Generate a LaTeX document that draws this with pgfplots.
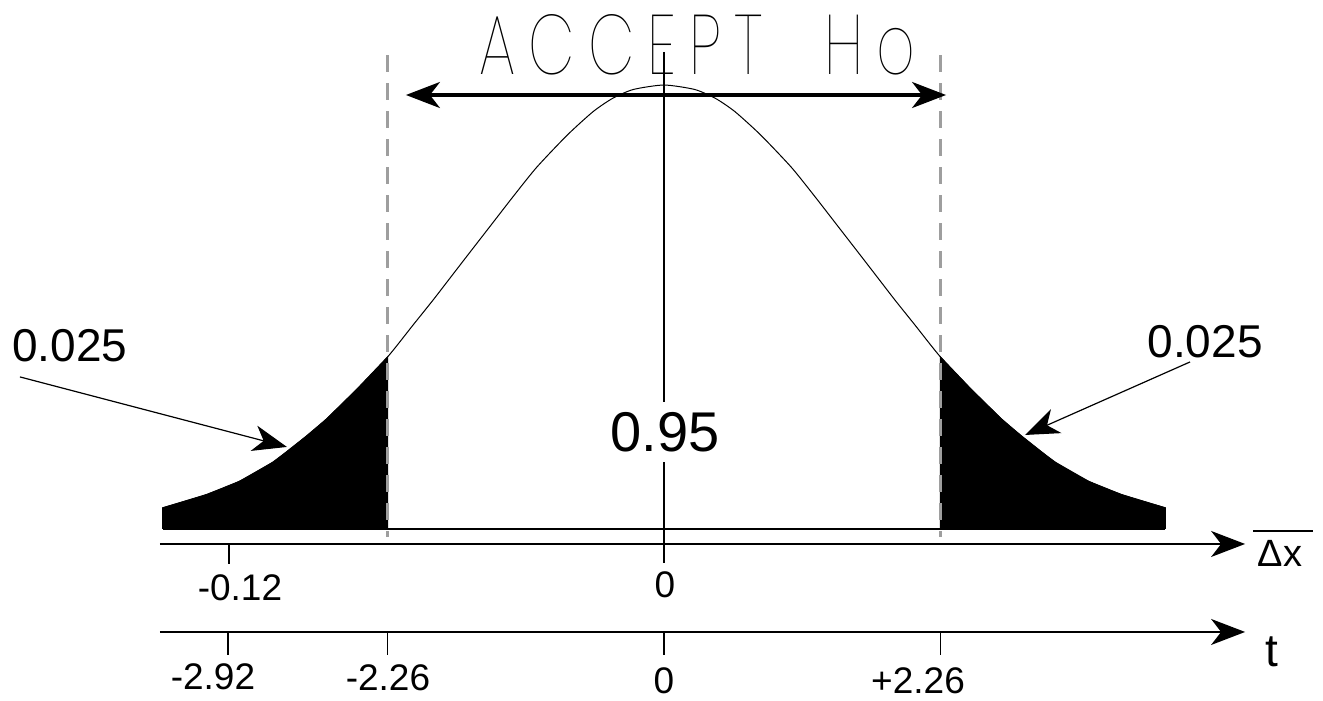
\documentclass[border=0pt]{standalone}
\usepackage{graphicx}
\usepackage{pgfplots}
\pgfplotsset{compat=1.18}
\usepackage{pgfplotstable}
\usetikzlibrary{arrows.meta}
\usepackage{fontspec}
\setmainfont{Liberation Sans}
% a light face for the region caption, with fallbacks
\IfFontExistsTF{Poppins Thin}{\newfontfamily\thinfont{Poppins Thin}}{%
  \IfFontExistsTF{Fira Sans Thin}{\newfontfamily\thinfont{Fira Sans Thin}}{%
    \IfFontExistsTF{Lato Hairline}{\newfontfamily\thinfont{Lato Hairline}}{%
      \IfFontExistsTF{Poppins Light}{\newfontfamily\thinfont{Poppins Light}}{%
        \IfFontExistsTF{Open Sans Light}{\newfontfamily\thinfont{Open Sans Light}}{%
          \newfontfamily\thinfont{Liberation Sans}}}}}}

% t distribution density (t, f(t))
\pgfplotstableread{
t dens
-4.10 0.019
-3.74 0.031
-3.47 0.043
-3.20 0.060
-3.08 0.070
-2.92 0.084
-2.76 0.099
-2.51 0.126
-2.26 0.155
-2.05 0.184
-1.89 0.206
-1.75 0.226
-1.61 0.246
-1.42 0.273
-1.23 0.300
-1.04 0.326
-0.79 0.355
-0.58 0.376
-0.42 0.388
-0.25 0.396
0.00 0.400
0.25 0.396
0.42 0.388
0.58 0.376
0.79 0.355
1.04 0.326
1.23 0.300
1.42 0.273
1.61 0.246
1.75 0.226
1.89 0.206
2.05 0.184
2.26 0.155
2.51 0.126
2.76 0.099
2.92 0.084
3.08 0.070
3.20 0.060
3.47 0.043
3.74 0.031
4.10 0.019
}\curve

% rejection region, lower tail
\pgfplotstableread{
t dens
-4.10 0.000
-4.10 0.019
-3.74 0.031
-3.47 0.043
-3.20 0.060
-3.08 0.070
-2.92 0.084
-2.76 0.099
-2.51 0.126
-2.26 0.155
-2.26 0.000
}\lefttail

% rejection region, upper tail
\pgfplotstableread{
t dens
2.26 0.000
2.26 0.155
2.51 0.126
2.76 0.099
2.92 0.084
3.08 0.070
3.20 0.060
3.47 0.043
3.74 0.031
4.10 0.019
4.10 0.000
}\righttail

\begin{document}
\begin{tikzpicture}[
  bigtip/.tip={Stealth[length=17pt,width=13pt,inset=5pt]},
  leadtip/.tip={Stealth[length=17pt,width=13pt,inset=5pt]},
  crit/.style={black!38, line width=1.8pt, dash pattern=on 8.5pt off 5.5pt},
  lbl/.style={inner sep=0pt, font=\fontsize{18.5}{18.5}\selectfont},
]
\begin{axis}[
  x=61.15pt, y=554.9pt,
  xmin=-4.121, xmax=4.751, ymin=-0.0928, ymax=0.4766,
  axis x line=bottom, axis y line=none,
  x axis line style={line width=0.75pt, -bigtip},
  xtick={-3.565,-2.26,0,2.26}, xticklabels={,,,},
  tick align=outside, major tick length=11.5pt,
  xtick style={line width=0.6pt, black},
  clip=false,
]
% shaded tails
\addplot[fill=black, draw=black, line width=0.5pt] table[x=t, y=dens] {\lefttail};
\addplot[fill=black, draw=black, line width=0.5pt] table[x=t, y=dens] {\righttail};
% density curve and its base
\addplot[black, line width=0.5pt, smooth, tension=0.4] table[x=t, y=dens] {\curve};
\addplot[black, line width=0.6pt] coordinates {(-4.10,0) (4.10,0)};

% critical values
\draw[crit] (axis cs:-2.26,0.427) -- (axis cs:-2.26,-0.0072);
\draw[crit] (axis cs:2.26,0.427) -- (axis cs:2.26,-0.0072);

% centre line
\draw[black, line width=0.6pt] (axis cs:0,0.4298) -- (axis cs:0,-0.0306);

% acceptance region
\draw[line width=1.6pt, bigtip-bigtip] (axis cs:-2.110,0.391) -- (axis cs:2.306,0.391);
\node[inner sep=0pt] at (axis cs:0.272,0.4361)
  {\resizebox{218pt}{30pt}{\thinfont\addfontfeature{LetterSpace=22}ACCEPT\ \ Ho}};

\node[fill=white, inner xsep=2pt, inner ysep=5pt, font=\fontsize{28}{28}\selectfont]
  at (axis cs:0.008,0.0874) {0.95};

% tail probabilities
\node[inner sep=0pt, font=\fontsize{23}{23}\selectfont] at (axis cs:-4.857,0.1649) {0.025};
\node[inner sep=0pt, font=\fontsize{23}{23}\selectfont] at (axis cs:4.424,0.1685) {0.025};
\draw[line width=0.6pt, -leadtip] (axis cs:-5.266,0.1370) -- (axis cs:-3.083,0.0739);
\draw[line width=0.6pt, -leadtip] (axis cs:4.301,0.1505) -- (axis cs:2.952,0.0847);

% mean difference axis
\draw[line width=0.75pt, -bigtip] (axis cs:-4.121,-0.01352) -- (axis cs:4.751,-0.01352);
\draw[line width=0.6pt] (axis cs:-3.557,-0.01352) -- (axis cs:-3.557,-0.0315);
\node[lbl] at (axis cs:-3.467,-0.0532) {-0.12};
\node[lbl] at (axis cs:0.008,-0.0505) {0};
\node[inner sep=0pt, font=\fontsize{19}{19}\selectfont] at (axis cs:5.037,-0.0216) {Δx};
\draw[line width=1pt] (axis cs:4.816,-0.0018) -- (axis cs:5.307,-0.0018);

% t axis labels
\node[lbl] at (axis cs:-3.688,-0.1333) {-2.92};
\node[lbl] at (axis cs:-2.257,-0.1342) {-2.26};
\node[lbl] at (axis cs:0,-0.1370) {0};
\node[lbl] at (axis cs:2.077,-0.1370) {+2.26};
\node[inner sep=0pt, font=\fontsize{23}{23}\selectfont] at (axis cs:4.971,-0.1108) {t};

\coordinate (bbsw) at (axis cs:-5.429,-0.1541);
\coordinate (bbne) at (axis cs:5.388,0.4766);
\end{axis}
\pgfresetboundingbox
\useasboundingbox (bbsw) rectangle (bbne);
\end{tikzpicture}
\end{document}
